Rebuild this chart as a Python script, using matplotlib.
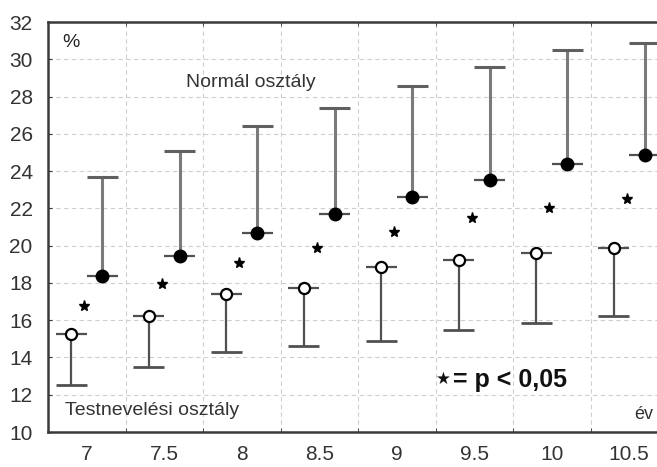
import numpy as np
import matplotlib
matplotlib.use("Agg")
import matplotlib.pyplot as plt

plt.rcParams["font.family"] = ["Liberation Sans", "DejaVu Sans"]

# age groups (év)
age_labels = ["7", "7.5", "8", "8.5", "9", "9.5", "10", "10.5"]

# Normál osztály: mean and upper whisker
normal_mean = [18.35, 19.45, 20.7, 21.7, 22.6, 23.5, 24.4, 24.85]
normal_upper = [23.7, 25.1, 26.4, 27.4, 28.55, 29.6, 30.5, 30.9]

# Testnevelési osztály: mean and lower whisker
pe_mean = [15.25, 16.25, 17.4, 17.75, 18.85, 19.25, 19.6, 19.85]
pe_lower = [12.5, 13.5, 14.3, 14.6, 14.9, 15.5, 15.85, 16.25]

# significance stars
star_y = [16.75, 17.95, 19.05, 19.85, 20.75, 21.5, 22.0, 22.5]

fig = plt.figure(figsize=(6.57, 4.67), dpi=100)
ax = fig.add_axes([48 / 657, 1 - 432 / 467, 620 / 657, 410 / 467])

x = np.arange(len(age_labels))
off = 0.2
cap = 0.2

# normal class (filled)
xn = x + off
ax.vlines(xn, normal_mean, normal_upper, color="#7a7a7a", lw=2.2, zorder=2)
ax.hlines(normal_upper, xn - cap, xn + cap, color="#606060", lw=2.2, zorder=2)
ax.hlines(normal_mean, xn - cap, xn + cap, color="#505050", lw=1.6, zorder=2)
ax.plot(xn, normal_mean, "o", ms=9, mfc="black", mec="black", zorder=3)

# PE class (open)
xp = x - off
ax.vlines(xp, pe_lower, pe_mean, color="#505050", lw=1.6, zorder=2)
ax.hlines(pe_lower, xp - cap, xp + cap, color="#505050", lw=2.0, zorder=2)
ax.hlines(pe_mean, xp - cap, xp + cap, color="#505050", lw=1.6, zorder=2)
ax.plot(xp, pe_mean, "o", ms=8, mfc="white", mec="black", mew=1.6, zorder=3)

ax.plot(x - 0.03, star_y, "*", ms=8, color="black", zorder=3)

ax.set_xlim(-0.5, len(age_labels) - 0.5)
ax.set_ylim(10, 32)
ax.set_yticks(np.arange(10, 33, 2))
ax.set_xticks(x)
ax.set_xticklabels(age_labels)
ax.set_xticks(x[:-1] + 0.5, minor=True)

ax.grid(True, axis="y", which="major", color="#cfcfcf", ls=(0, (4, 3)), lw=0.8)
ax.grid(True, axis="x", which="minor", color="#cfcfcf", ls=(0, (4, 3)), lw=0.8)
ax.tick_params(axis="x", which="major", length=0, pad=9, labelsize=15, labelcolor="#333333")
ax.tick_params(axis="x", which="minor", direction="in", length=3, color="#333333", top=True)
ax.tick_params(axis="y", direction="in", length=3, pad=11, labelsize=15, labelcolor="#333333", color="#333333")

for s in ["left", "bottom", "top"]:
    ax.spines[s].set_color("#3a3a3a")
    ax.spines[s].set_linewidth(1.8)
ax.spines["right"].set_visible(False)

ax.text(2.12, 28.75, "Normál osztály", ha="center", va="center", fontsize=14, color="#333333")
ax.text(-0.28, 11.15, "Testnevelési osztály", ha="left", va="center", fontsize=14, color="#333333")
ax.text(-0.2, 30.9, "%", ha="center", va="center", fontsize=14, color="#222222")
ax.text(7.19, 10.95, "év", ha="center", va="center", fontsize=13, color="#333333")
ax.text(4.51, 12.85, "\u2605", ha="left", va="center", fontsize=12, color="#111111",
        family=["DejaVu Sans"])
ax.text(4.72, 12.8, "= p < 0,05", ha="left", va="center", fontsize=18, fontweight="bold",
        color="#111111")

fig.savefig("out.png", dpi=100, facecolor="white")
